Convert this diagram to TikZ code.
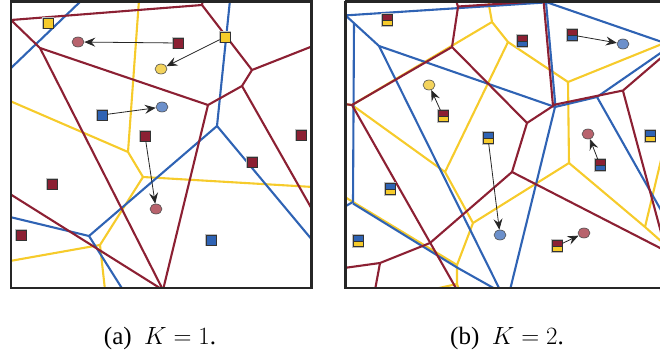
\documentclass[tikz,border=0pt]{standalone}
\usepackage{fontspec}
\setmainfont{Liberation Serif}
\usetikzlibrary{arrows.meta, shapes.geometric}
\definecolor{vred}{HTML}{8C2033}
\definecolor{vblue}{HTML}{2F63B4}
\definecolor{vyellow}{HTML}{F6CB2B}
\definecolor{cred}{HTML}{B8636D}
\definecolor{cblue}{HTML}{6C90CB}
\definecolor{cyellow}{HTML}{F3D35C}

\begin{document}
\begin{tikzpicture}[x=1pt, y=-1pt,
    redl/.style={vred, line width=2.1pt, line join=round},
    bluel/.style={vblue, line width=2.1pt, line join=round},
    yell/.style={vyellow, line width=2.1pt, line join=round},
    panelline/.style={black!85, line width=2.8pt},
    sq/.style={draw=black!80, line width=0.7pt, minimum size=10pt, inner sep=0pt,
        preaction={draw=black!25, line width=2.8pt}},
    dsq/.style 2 args={sq, minimum width=10pt, minimum height=11pt, path picture={
        \fill[#1] (path picture bounding box.north west) rectangle (path picture bounding box.east);
        \fill[#2] (path picture bounding box.west) rectangle (path picture bounding box.south east);
        \draw[black!80, line width=0.6pt] (path picture bounding box.west) -- (path picture bounding box.east);}},
    blob/.style={ellipse, draw=black!70, line width=0.6pt, minimum width=12pt, minimum height=10pt, inner sep=0pt},
    arr/.style={-{Stealth[length=11pt, width=9pt, inset=4pt]}, line width=0.8pt, black!85},
    capt/.style={font=\fontsize{25}{30}\selectfont, anchor=base, inner sep=0pt}
]
\useasboundingbox (0,0) rectangle (660,358);

% (a) K = 1
\begin{scope}
\clip (11,1) rectangle (312,288);
\draw[yell] (139,0) -- (128,152) -- (143,177) -- (313,187);
\draw[yell] (10,101) -- (128,152);
\draw[yell] (143,177) -- (100,245) -- (10,261);
\draw[yell] (100,245) -- (105,290);
\draw[bluel] (82,0) -- (10,69);
\draw[bluel] (230,0) -- (217,126) -- (89,236) -- (10,217);
\draw[bluel] (89,236) -- (123,290);
\draw[bluel] (217,126) -- (313,241);
\draw[redl] (11,20) -- (202,5) -- (203,0);
\draw[redl] (202,5) -- (252,70) -- (313,46);
\draw[redl] (252,70) -- (242,86) -- (208,105) -- (40,48) -- (11,20);
\draw[redl] (242,86) -- (313,211);
\draw[redl] (40,48) -- (163,290);
\draw[redl] (208,105) -- (163,290);
\draw[redl] (10,194) -- (163,290);
\end{scope}

\node[sq, fill=vyellow] (a1) at (48,23) {};
\node[sq, fill=vred] (a2) at (178,43) {};
\node[sq, fill=vyellow] (a3) at (225,37) {};
\node[sq, fill=vblue] (a4) at (102,115) {};
\node[sq, fill=vred] (a5) at (145,136) {};
\node[sq, fill=vred] (a6) at (301,135) {};
\node[sq, fill=vred] (a7) at (252,162) {};
\node[sq, fill=vred] (a8) at (52,184) {};
\node[sq, fill=vred] (a9) at (21,235) {};
\node[sq, fill=vblue] (a10) at (211,240) {};

\node[blob, fill=cred] (ca1) at (78,42) {};
\node[blob, fill=cyellow] (ca2) at (161,69) {};
\node[blob, fill=cblue] (ca3) at (162,107) {};
\node[blob, fill=cred] (ca4) at (156,209) {};

\draw[arr] (a2) -- (ca1);
\draw[arr] (a3) -- (ca2);
\draw[arr] (a4) -- (ca3);
\draw[arr] (a5) -- (ca4);

\draw[panelline] (11,1.2) rectangle (311.5,288);

% (b) K = 2
\begin{scope}
\clip (345,1) rectangle (668,288);
\draw[yell] (488,0) -- (492,22) -- (508,42) -- (568,82) -- (662,44);
\draw[yell] (492,22) -- (352,105) -- (344,104);
\draw[yell] (352,105) -- (445,172) -- (508,42);
\draw[yell] (445,172) -- (473,223) -- (569,163) -- (568,82);
\draw[yell] (569,163) -- (645,227) -- (662,242);
\draw[yell] (645,227) -- (662,156);
\draw[yell] (473,223) -- (457,265) -- (457,284) -- (430,290);
\draw[yell] (457,284) -- (459,290);
\draw[yell] (344,196.5) -- (457,265);
\draw[bluel] (344,15.5) -- (545,2.5);
\draw[bluel] (344,14) -- (379,46) -- (555,107);
\draw[bluel] (354,23) -- (353,202) -- (344,207);
\draw[bluel] (353,203.5) -- (457,267.5) -- (497,290);
\draw[bluel] (379,46) -- (500,290);
\draw[bluel] (546,2) -- (555.5,107);
\draw[bluel] (546,2) -- (662,42);
\draw[bluel] (555,107) -- (597,97) -- (662,52);
\draw[bluel] (597,97) -- (662,212);
\draw[bluel] (555,107) -- (510,290);
\draw[redl] (456,0) -- (458,7);
\draw[redl] (458,6.5) -- (544,1);
\draw[redl] (458,7) -- (452,47) -- (352,105) -- (344,104);
\draw[redl] (452,47) -- (527,123) -- (553,106) -- (543.5,0);
\draw[redl] (553,105) -- (623,90.5) -- (662,57);
\draw[redl] (623,91) -- (662,236);
\draw[redl] (527,123) -- (512,172) -- (662,249);
\draw[redl] (512,172) -- (430,243) -- (380,263) -- (344,268);
\draw[redl] (380,263) -- (375,290);
\draw[redl] (352,105) -- (457,290);
\end{scope}

\node[dsq={vred}{vyellow}] (b1) at (387,20) {};
\node[dsq={vred}{vyellow}] (b2) at (443,116) {};
\node[dsq={vblue}{vyellow}] (b3) at (488,138) {};
\node[dsq={vblue}{vyellow}] (b4) at (390,189) {};
\node[dsq={vblue}{vyellow}] (b5) at (358,241) {};
\node[dsq={vred}{vblue}] (b6) at (522,41) {};
\node[dsq={vred}{vblue}] (b7) at (572,35) {};
\node[dsq={vred}{vblue}] (b8) at (600,165) {};
\node[dsq={vblue}{vyellow}] (b9) at (650,136) {};
\node[dsq={vred}{vyellow}] (b10) at (557,246) {};

\node[blob, fill=cyellow] (cb1) at (429,85) {};
\node[blob, fill=cblue] (cb2) at (623,44) {};
\node[blob, fill=cred] (cb3) at (588,134) {};
\node[blob, fill=cblue] (cb4) at (500,235) {};
\node[blob, fill=cred] (cb5) at (584,233) {};

\draw[arr] (b2) -- (cb1);
\draw[arr] (b7) -- (cb2);
\draw[arr] (b8) -- (cb3);
\draw[arr] (b3) -- (cb4);
\draw[arr] (b10) -- (cb5);

\draw[panelline] (345.3,1.2) -- (345.3,288) -- (668,288);
\draw[panelline] (345.3,1.2) -- (668,1.2);

% captions
\node[capt] (capa) at (160,344) {(a)\enspace$K=1$.};
\node[capt] (capb) at (507,344) {(b)\enspace$K=2$.};
\end{tikzpicture}
\end{document}
